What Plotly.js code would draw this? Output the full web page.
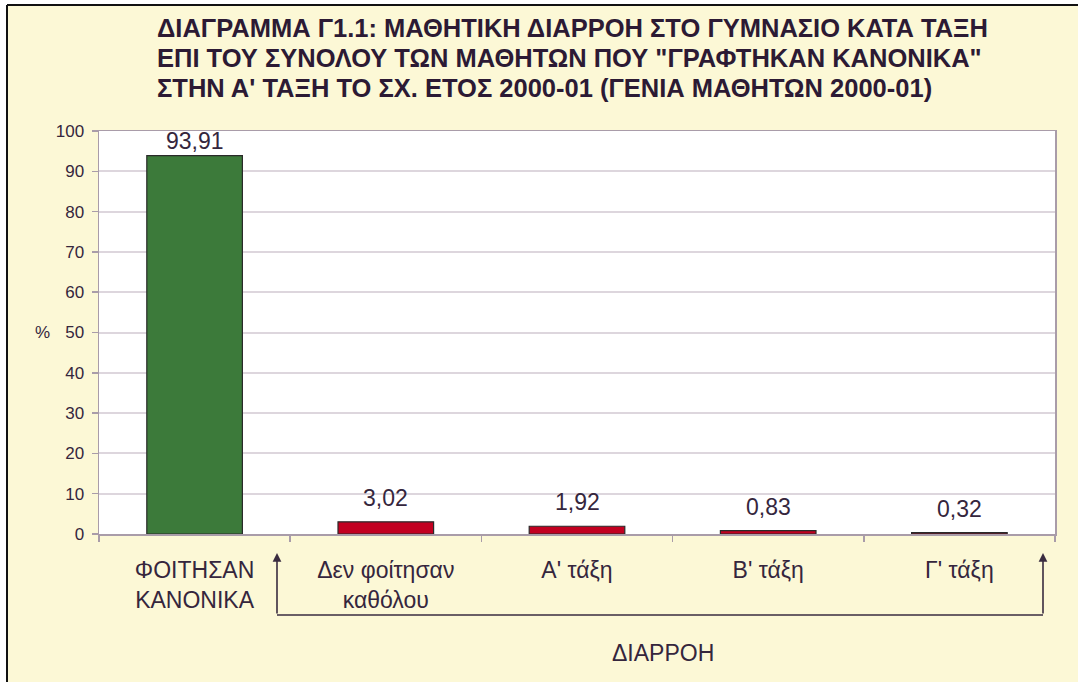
<!DOCTYPE html>
<html>
<head>
<meta charset="utf-8">
<script src="https://cdn.plot.ly/plotly-3.0.1.min.js"></script>
<style>
html,body{margin:0;padding:0;background:#ffffff;}
#chart{width:1078px;height:682px;}
</style>
</head>
<body>
<div id="chart"></div>
<script>
// ---- data ----
const categories = ["ΦΟΙΤΗΣΑΝ<br>ΚΑΝΟΝΙΚΑ", "Δεν φοίτησαν<br>καθόλου", "Α' τάξη", "Β' τάξη", "Γ' τάξη"];
const values = [93.91, 3.02, 1.92, 0.83, 0.32];
const barColors = ["#3c7a3a", "#c20020", "#c20020", "#c20020", "#c20020"];
const titleLines = [
  "ΔΙΑΓΡΑΜΜΑ Γ1.1: ΜΑΘΗΤΙΚΗ ΔΙΑΡΡΟΗ ΣΤΟ ΓΥΜΝΑΣΙΟ ΚΑΤΑ ΤΑΞΗ",
  "ΕΠΙ ΤΟΥ ΣΥΝΟΛΟΥ ΤΩΝ ΜΑΘΗΤΩΝ ΠΟΥ \"ΓΡΑΦΤΗΚΑΝ ΚΑΝΟΝΙΚΑ\"",
  "ΣΤΗΝ Α' ΤΑΞΗ ΤΟ ΣΧ. ΕΤΟΣ 2000-01 (ΓΕΝΙΑ ΜΑΘΗΤΩΝ 2000-01)"
];
const yAxisLabel = "%";
const groupLabel = "ΔΙΑΡΡΟΗ";

// ---- layout geometry ----
const W = 1078, H = 682;
const L = 99, R = 1055, T = 131, B = 534;
const px = x => (x - L) / (R - L);
const py = y => (B - y) / (B - T);
const unitPx = (B - T) / 100;

const textColor = "#35263d";
const font = "Liberation Sans, Arial, sans-serif";

const annotations = [];
titleLines.forEach((t, i) => {
  annotations.push({
    text: t, xref: "paper", yref: "paper",
    x: px(155), y: py([28, 58, 88][i]),
    xanchor: "left", yanchor: "middle", showarrow: false,
    font: {family: font, size: 25.5, color: "#2c1a34", weight: "bold"}
  });
});
values.forEach((v, i) => {
  annotations.push({
    text: v.toFixed(2).replace(".", ","),
    x: categories[i], y: Math.min(v + 24 / unitPx, (B - 141) / unitPx),
    xref: "x", yref: "y", xanchor: "center", yanchor: "middle",
    showarrow: false, font: {family: font, size: 23, color: textColor}
  });
});
annotations.push({
  text: yAxisLabel, xref: "paper", yref: "paper", x: px(42), y: py(332),
  xanchor: "center", yanchor: "middle", showarrow: false,
  font: {family: font, size: 17, color: textColor}
});
annotations.push({
  text: groupLabel, xref: "paper", yref: "paper", x: px(663), y: py(653),
  xanchor: "center", yanchor: "middle", showarrow: false,
  font: {family: font, size: 23, color: textColor}
});
// bracket arrows
[277, 1043].forEach(xp => {
  annotations.push({
    text: "", xref: "paper", yref: "paper", x: px(xp), y: py(553),
    axref: "pixel", ayref: "pixel", ax: 0, ay: 615 - 553,
    showarrow: true, arrowhead: 2, arrowsize: 1.1, arrowwidth: 1.6, arrowcolor: "#3a2c40",
    standoff: 0
  });
});

const shapes = [
  {type: "line", xref: "paper", yref: "paper", x0: px(277), x1: px(1043), y0: py(615), y1: py(615),
   line: {color: "#3a2c40", width: 1.6}},
  // white margin outside the frame
  {type: "rect", xref: "paper", yref: "paper", x0: px(0), x1: px(W), y0: py(0), y1: py(5),
   fillcolor: "#ffffff", line: {width: 0}},
  {type: "rect", xref: "paper", yref: "paper", x0: px(0), x1: px(7), y0: py(0), y1: py(H),
   fillcolor: "#ffffff", line: {width: 0}},
  // black frame lines
  {type: "line", xref: "paper", yref: "paper", x0: px(7), x1: px(W), y0: py(5), y1: py(5),
   line: {color: "#111111", width: 2}},
  {type: "line", xref: "paper", yref: "paper", x0: px(7), x1: px(7), y0: py(5), y1: py(H),
   line: {color: "#111111", width: 2}}
];

const trace = {
  type: "bar",
  x: categories,
  y: values,
  width: 0.5,
  marker: {color: barColors, line: {color: "#2a2a2a", width: 1.2}},
  hoverinfo: "x+y"
};

const layout = {
  width: W, height: H,
  margin: {l: L, r: W - R, t: T, b: H - B, pad: 0},
  paper_bgcolor: "#fcf8d6",
  plot_bgcolor: "#ffffff",
  showlegend: false,
  font: {family: font, color: textColor},
  xaxis: {
    type: "category",
    tickson: "boundaries",
    ticks: "outside", ticklen: 6, tickcolor: "#a99ca9", tickwidth: 1.5,
    showline: true, linecolor: "#a99ca9", linewidth: 1.5, mirror: true,
    showgrid: false,
    tickfont: {family: font, size: 23, color: textColor},
    ticklabelstandoff: 15
  },
  yaxis: {
    range: [0, 100], dtick: 10, tick0: 0,
    ticks: "outside", ticklen: 6, tickcolor: "#a99ca9", tickwidth: 1.5,
    showline: true, linecolor: "#a99ca9", linewidth: 1.5, mirror: true,
    showgrid: true, gridcolor: "#ddd6dd", gridwidth: 2,
    zeroline: false,
    tickfont: {family: font, size: 17, color: textColor},
    ticklabelstandoff: 4
  },
  annotations: annotations,
  shapes: shapes
};

Plotly.newPlot("chart", [trace], layout, {displayModeBar: false, staticPlot: true});
</script>
</body>
</html>
